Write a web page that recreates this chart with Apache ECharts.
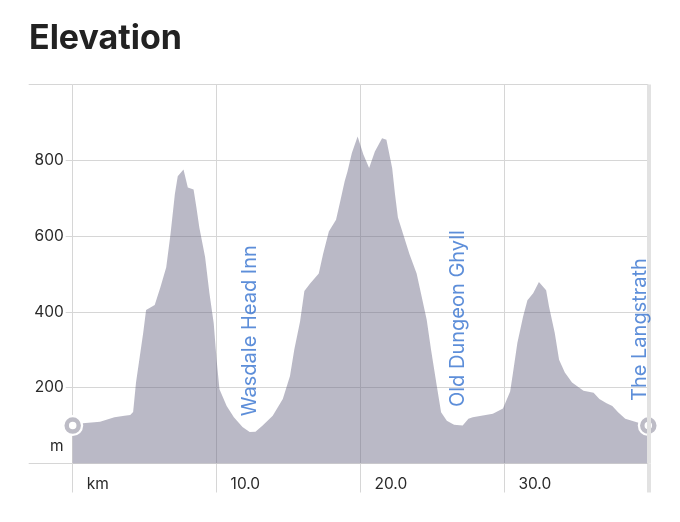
<!DOCTYPE html>
<html>
<head>
<meta charset="utf-8">
<script src="https://cdn.jsdelivr.net/npm/echarts@6.0.0/dist/echarts.min.js"></script>
<style>
html,body{margin:0;padding:0;background:#fff;}
#chart{width:680px;height:522px;}
</style>
</head>
<body>
<div id="chart"></div>
<script>
// distance along route (km)
const kmData = [0.0,0.5,0.7,1.9,2.9,3.6,4.0,4.2,4.4,4.9,5.1,5.7,6.1,6.5,6.8,7.1,7.3,7.7,8.0,8.4,8.6,8.8,9.2,9.5,9.8,10.0,10.2,10.7,11.2,11.8,12.3,12.7,13.2,13.9,14.6,15.1,15.4,15.8,16.1,16.5,17.1,17.4,17.8,18.3,18.6,18.9,19.1,19.4,19.8,20.2,20.6,21.0,21.5,21.8,22.2,22.4,22.6,23.0,23.4,23.9,24.2,24.6,24.9,25.3,25.6,26.0,26.5,27.1,27.5,27.8,29.2,29.9,30.4,30.6,30.9,31.3,31.6,32.0,32.4,32.9,33.1,33.5,33.8,34.2,34.7,35.5,36.2,36.6,37.1,37.5,37.9,38.4,39.2,40.0];
// elevation (m)
const elevData = [100,104,106,110,122,126,128,136,214,345,405,418,466,518,606,711,758,776,728,723,675,623,545,450,370,274,196,152,122,96,83,84,100,126,170,231,301,375,455,475,501,553,612,643,693,745,771,819,863,815,780,823,858,854,780,710,649,601,553,501,449,379,301,205,135,113,102,100,118,122,131,145,190,240,318,388,431,449,479,457,414,344,274,240,214,192,187,170,159,152,135,118,109,100];
// waypoints
const wayNames = ['Wasdale Head Inn','Old Dungeon Ghyll','The Langstrath'];
const wayKm = [12.35, 26.75, 39.4];
const wayElev = [125, 149, 165];
// axis ticks
const xTicks = [0,10,20,30];
const xEnd = 40;
const yTicks = [0,200,400,600,800,1000];
const yLabelTicks = [45,200,400,600,800];

const profile = kmData.map((k,i)=>[k, elevData[i]]);
const ends = [[kmData[0], elevData[0]], [kmData[kmData.length-1], elevData[elevData.length-1]]];
const ways = wayNames.map((n,i)=>({name:n, value:[wayKm[i], wayElev[i]]}));

const FONT = 'Inter, "Noto Sans", sans-serif';
const GRID = '#d6d6d6';

const chart = echarts.init(document.getElementById('chart'));
chart.setOption({
  animation:false,
  title:{text:'Elevation', left:29, top:22, padding:0,
    textStyle:{fontSize:34, fontWeight:'bold', color:'#222', fontFamily:FONT}},
  grid:{left:72.7, right:31.7, top:84.5, bottom:58.5},
  xAxis:[{
    type:'value', min:0, max:xEnd, interval:10,
    axisLine:{show:false},
    axisTick:{show:true, length:29, customValues:xTicks, lineStyle:{color:GRID, width:1}},
    splitLine:{show:true, lineStyle:{color:[GRID,GRID,GRID,GRID,'rgba(0,0,0,0)'], width:1}},
    axisLabel:{customValues:xTicks, align:'left', margin:13, padding:[0,0,0,14],
      fontSize:15.5, color:'#2a2a2a', fontFamily:FONT,
      formatter:v=> v===0 ? 'km' : v.toFixed(1)}
  },{
    type:'value', min:0, max:xEnd, position:'bottom',
    axisLine:{show:false},
    axisTick:{show:true, length:29, customValues:[xEnd], lineStyle:{color:'#e2e2e2', width:4}},
    splitLine:{show:false},
    axisLabel:{show:false}
  }],
  yAxis:{
    type:'value', min:0, max:1000, interval:200,
    axisLine:{show:false},
    axisTick:{show:true, length:44, customValues:yTicks, lineStyle:{color:GRID}},
    splitLine:{show:true, lineStyle:{color:GRID}},
    axisLabel:{customValues:yLabelTicks, margin:7, fontSize:15.5, color:'#2a2a2a', fontFamily:FONT,
      backgroundColor:'#fff', padding:[3,2,3,10],
      formatter:v=> v<100 ? 'm' : String(v)}
  },
  series:[{
    name:'edge', type:'line', data:[], z:1, silent:true,
    markLine:{symbol:'none', silent:true, label:{show:false},
      lineStyle:{color:'#e2e2e2', width:4, type:'solid'},
      data:[{xAxis:xEnd}]}
  },{
    name:'Elevation', type:'line', data:profile, z:2,
    showSymbol:false, smooth:false,
    lineStyle:{width:0},
    areaStyle:{color:'rgba(100,96,126,0.445)', opacity:1, origin:'start'}
  },{
    name:'halo', type:'scatter', data:ends, z:3, clip:false, silent:true,
    symbolSize:21, itemStyle:{color:'#fff', opacity:1}
  },{
    name:'ends', type:'scatter', data:ends, z:4, clip:false, silent:true,
    symbolSize:12, itemStyle:{color:'#fff', borderColor:'#bdbcc6', borderWidth:4.5, opacity:1}
  },{
    name:'waypoints', type:'scatter', data:ways, z:5, clip:false, silent:true,
    symbolSize:0,
    label:{show:true, position:'inside', rotate:90, align:'left', verticalAlign:'middle',
      formatter:p=>p.name, fontSize:20, color:'#3572cf', fontFamily:FONT}
  }]
});
</script>
</body>
</html>
